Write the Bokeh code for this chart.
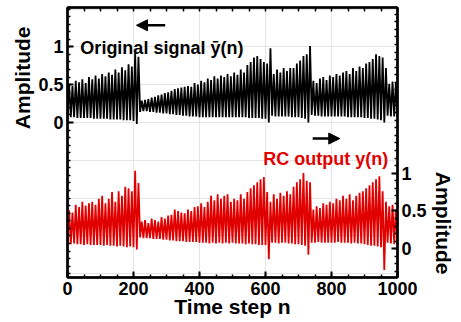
import numpy as np
from bokeh.plotting import figure
from bokeh.models import Range1d, LinearAxis, FixedTicker, Label, Arrow, NormalHead, Title
from bokeh.embed import file_html
from bokeh.resources import INLINE

# ---- data (envelope of each oscillation, every 10 steps) ----
steps = list(range(0, 1001, 10))

black_upper = [
    0.50, 0.48, 0.55, 0.53, 0.57, 0.52, 0.60, 0.57, 0.62, 0.58,
    0.64, 0.61, 0.66, 0.63, 0.70, 0.66, 0.73, 0.69, 0.77, 0.74,
    0.92, 0.87, 0.29, 0.30, 0.31, 0.33, 0.34, 0.36, 0.37, 0.39,
    0.40, 0.42, 0.44, 0.45, 0.46, 0.47, 0.48, 0.47, 0.52, 0.50,
    0.55, 0.53, 0.58, 0.56, 0.61, 0.58, 0.62, 0.60, 0.64, 0.61,
    0.66, 0.63, 0.70, 0.66, 0.76, 0.80, 0.86, 0.88, 0.84, 0.80,
    0.78, 0.98, 0.64, 0.70, 0.66, 0.72, 0.68, 0.72, 0.72, 0.78,
    0.82, 0.88, 0.90, 1.01, 0.55, 0.52, 0.58, 0.60, 0.56, 0.62,
    0.60, 0.64, 0.62, 0.66, 0.68, 0.64, 0.72, 0.68, 0.74, 0.72,
    0.78, 0.80, 0.84, 0.90, 0.88, 0.86, 0.72, 0.51, 0.54, 0.52,
    0.53,
]
black_lower = [
    0.07, 0.07, 0.07, 0.06, 0.06, 0.06, 0.06, 0.06, 0.05, 0.05,
    0.05, 0.05, 0.05, 0.04, 0.04, 0.04, 0.04, 0.03, 0.03, 0.03,
    0.02, -0.02, 0.14, 0.15, 0.15, 0.14, 0.14, 0.13, 0.13, 0.12,
    0.12, 0.11, 0.11, 0.10, 0.10, 0.09, 0.09, 0.08, 0.08, 0.08,
    0.07, 0.07, 0.07, 0.07, 0.07, 0.07, 0.07, 0.07, 0.07, 0.07,
    0.07, 0.07, 0.07, 0.07, 0.07, 0.06, 0.06, 0.06, 0.06, 0.05,
    0.05, 0.00, 0.09, 0.08, 0.08, 0.08, 0.08, 0.08, 0.07, 0.07,
    0.07, 0.06, 0.05, 0.00, 0.10, 0.09, 0.09, 0.08, 0.08, 0.08,
    0.08, 0.08, 0.08, 0.08, 0.08, 0.07, 0.07, 0.07, 0.07, 0.07,
    0.06, 0.06, 0.05, 0.05, 0.04, 0.03, 0.00, 0.09, 0.08, 0.08,
    0.08,
]
red_upper = [
    0.51, 0.48, 0.58, 0.55, 0.62, 0.57, 0.60, 0.62, 0.58, 0.66,
    0.70, 0.60, 0.66, 0.75, 0.62, 0.76, 0.70, 0.82, 0.80, 0.76,
    1.03, 0.87, 0.36, 0.38, 0.34, 0.40, 0.38, 0.36, 0.42, 0.40,
    0.44, 0.45, 0.52, 0.50, 0.48, 0.47, 0.52, 0.50, 0.55, 0.56,
    0.60, 0.55, 0.62, 0.70, 0.64, 0.72, 0.66, 0.70, 0.72, 0.62,
    0.66, 0.64, 0.72, 0.66, 0.75, 0.80, 0.84, 0.88, 0.92, 0.95,
    0.75, 0.62, 0.72, 0.66, 0.74, 0.70, 0.76, 0.72, 0.82, 0.88,
    0.92, 1.00, 0.90, 0.88, 0.52, 0.56, 0.54, 0.60, 0.58, 0.62,
    0.60, 0.66, 0.64, 0.70, 0.66, 0.72, 0.64, 0.70, 0.74, 0.76,
    0.80, 0.84, 0.88, 0.92, 0.96, 0.76, 0.62, 0.56, 0.58, 0.52,
    0.54,
]
red_lower = [
    0.07, 0.06, 0.07, 0.06, 0.06, 0.05, 0.06, 0.05, 0.05, 0.05,
    0.05, 0.04, 0.05, 0.04, 0.04, 0.03, 0.04, 0.03, 0.02, 0.03,
    0.02, -0.01, 0.15, 0.14, 0.14, 0.14, 0.13, 0.13, 0.13, 0.12,
    0.12, 0.11, 0.11, 0.10, 0.10, 0.10, 0.09, 0.09, 0.09, 0.09,
    0.08, 0.08, 0.08, 0.07, 0.08, 0.07, 0.08, 0.07, 0.08, 0.07,
    0.08, 0.07, 0.07, 0.07, 0.06, 0.07, 0.06, 0.06, 0.05, 0.05,
    0.05, -0.14, 0.08, 0.08, 0.07, 0.08, 0.08, 0.07, 0.07, 0.06,
    0.06, 0.05, 0.04, -0.08, 0.08, 0.08, 0.09, 0.08, 0.08, 0.08,
    0.08, 0.08, 0.09, 0.08, 0.08, 0.08, 0.07, 0.08, 0.07, 0.07,
    0.06, 0.05, 0.04, 0.04, 0.03, 0.02, -0.28, 0.08, 0.07, 0.06,
    0.05,
]

x_tick_values = [0, 200, 400, 600, 800, 1000]
amp_tick_values = [0, 0.5, 1]
amp_tick_labels = ["0", "0.5", "1"]

FONT = "Liberation Sans"
RED = "#e00000"


def zigzag(xs, lo, hi):
    xs = np.asarray(xs, dtype=float)
    zx = np.column_stack([xs, xs + 5]).ravel()
    zy = np.column_stack([np.asarray(lo), np.asarray(hi)]).ravel()
    return zx, zy


W, H = 456, 320
p = figure(width=W, height=H, output_backend="svg", toolbar_location=None,
           x_range=Range1d(0, 1000), y_range=Range1d(-2.05, 1.52),
           x_axis_location=None, y_axis_location=None,
           min_border_left=67, min_border_right=30, min_border_top=7, min_border_bottom=30)
p.extra_y_ranges = {"right": Range1d(-0.38, 3.19)}
p.outline_line_color = "black"
p.outline_line_width = 2
p.background_fill_color = "white"
p.border_fill_color = "white"


def style(ax):
    ax.axis_line_width = 2.5
    ax.axis_line_color = "black"
    ax.major_tick_in = 6
    ax.major_tick_out = 0
    ax.minor_tick_in = 3
    ax.minor_tick_out = 0
    ax.major_tick_line_width = 2
    ax.minor_tick_line_width = 1.5
    ax.major_tick_line_color = "black"
    ax.minor_tick_line_color = "black"
    ax.major_label_text_font = FONT
    ax.major_label_text_font_style = "bold"
    ax.major_label_text_font_size = "18px"
    ax.major_label_text_color = "black"
    ax.major_label_standoff = 4
    ax.axis_label_text_font = FONT
    ax.axis_label_text_font_style = "bold"
    ax.axis_label_text_font_size = "21px"
    ax.axis_label_text_color = "black"


x_minor = list(range(0, 1001, 50))
bottom = LinearAxis(ticker=FixedTicker(ticks=x_tick_values, minor_ticks=x_minor),
                    axis_label="Time step n")
style(bottom)
bottom.major_label_standoff = 4
bottom.axis_label_standoff = -3
p.add_layout(bottom, "below")

# top frame edge: tick marks only (no labels)
top = LinearAxis(ticker=FixedTicker(ticks=[], minor_ticks=x_minor))
style(top)
top.minor_tick_in = 4
p.add_layout(top, "above")

left_minor = [round(v, 1) for v in np.arange(-2.0, 1.55, 0.1)]
left = LinearAxis(ticker=FixedTicker(ticks=amp_tick_values, minor_ticks=left_minor),
                  major_label_overrides={float(v): t for v, t in zip(amp_tick_values, amp_tick_labels)})
style(left)
p.add_layout(left, "left")

right_minor = [round(v, 1) for v in np.arange(-0.3, 3.15, 0.1)]
right = LinearAxis(y_range_name="right",
                   ticker=FixedTicker(ticks=amp_tick_values, minor_ticks=right_minor),
                   major_label_overrides={float(v): t for v, t in zip(amp_tick_values, amp_tick_labels)})
style(right)
p.add_layout(right, "right")

# axis titles: left one next to the upper (black) trace, right one next to the lower (red) trace
p.add_layout(Title(text="Amplitude", align="right", offset=19, standoff=2,
                   vertical_align="middle", text_font=FONT, text_font_style="bold",
                   text_font_size="21px", text_color="black"), "left")
p.add_layout(Title(text="Amplitude", align="right", offset=3, standoff=2,
                   vertical_align="middle", text_font=FONT, text_font_style="bold",
                   text_font_size="21px", text_color="black"), "right")

bx, by = zigzag(steps, black_lower, black_upper)
p.line(bx, by, line_color="black", line_width=1.8)
rx, ry = zigzag(steps, red_lower, red_upper)
p.line(rx, ry, line_color=RED, line_width=1.8, y_range_name="right")

p.add_layout(Label(x=39, y=0.99, text="Original signal \u0233(n)", text_font=FONT,
                   text_font_style="bold", text_font_size="18px", text_color="black",
                   text_baseline="alphabetic"))
p.add_layout(Label(x=593, y=1.19, y_range_name="right", text="RC output y(n)", text_font=FONT,
                   text_font_style="bold", text_font_size="18px", text_color=RED,
                   text_baseline="alphabetic"))

p.add_layout(Arrow(x_start=296, y_start=1.285, x_end=209, y_end=1.285, line_width=2.5,
                   line_color="black",
                   end=NormalHead(size=11, fill_color="black", line_color="black")))
p.add_layout(Arrow(x_start=743, y_start=-0.213, x_end=825, y_end=-0.213, line_width=2.5,
                   line_color="black",
                   end=NormalHead(size=11, fill_color="black", line_color="black")))

open("out.html", "w").write(file_html(p, INLINE))
